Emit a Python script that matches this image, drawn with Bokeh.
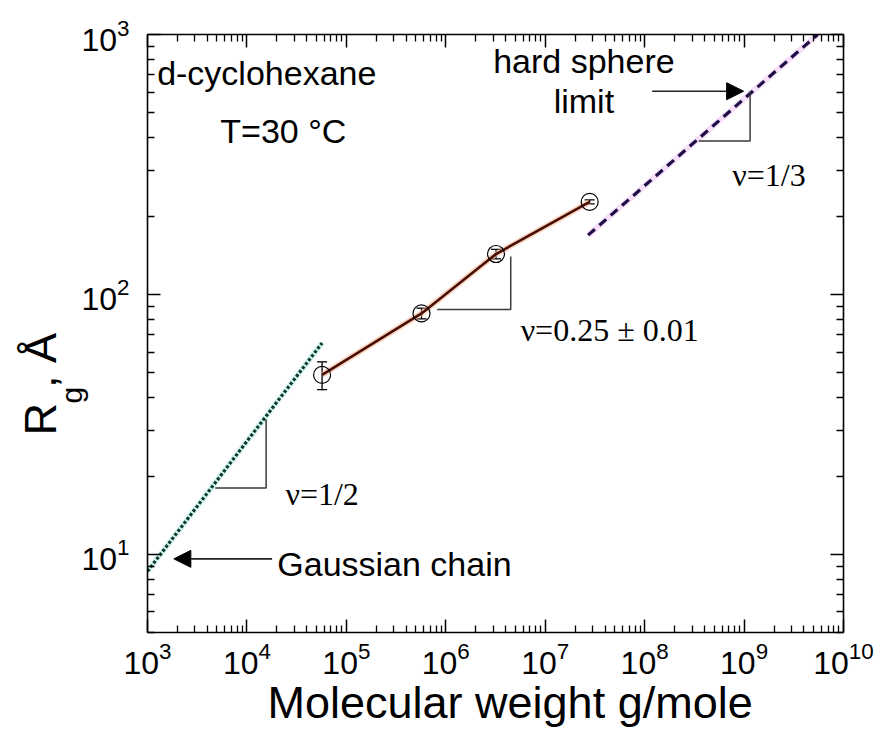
from bokeh.embed import file_html
from bokeh.resources import INLINE
from bokeh.plotting import figure
from bokeh.models import (ColumnDataSource, Range1d, LogAxis, FixedTicker, Label, Title,
                          Arrow, NormalHead, Whisker, TeeHead, CustomJSTickFormatter)

# ---- measured radii of gyration vs molecular weight (d-cyclohexane, 30 C) ----
mw = [5.7e4, 5.7e5, 3.2e6, 2.8e7]
rg = [49.0, 84.5, 143.0, 227.0]
rg_err = [6.0, 4.0, 6.0, 4.0]

# ---- reference scaling laws ----
gauss_mw = [1.0e3, 5.7e4]        # nu = 1/2
gauss_rg = [8.6, 65.0]
hs_mw = [2.7e7, 5.5e9]           # nu = 1/3
hs_rg = [169.0, 1000.0]

# ---- slope triangles ----
tri_gauss_mw = [4.8e3, 1.56e4, 1.56e4]
tri_gauss_rg = [18.0, 18.0, 33.0]
tri_main_mw = [8.2e5, 4.5e6, 4.5e6]
tri_main_rg = [87.5, 87.5, 140.0]
tri_hs_mw = [3.5e8, 1.15e9, 1.15e9]
tri_hs_rg = [389.0, 389.0, 605.0]

# ---- axis ticks ----
x_ticks = [1e3, 1e4, 1e5, 1e6, 1e7, 1e8, 1e9, 1e10]
y_ticks = [1e1, 1e2, 1e3]
x_minor = [m * 10 ** e for e in range(3, 10) for m in range(2, 10)]
y_minor = [m * 10 ** e for e in range(0, 3) for m in range(2, 10) if m * 10 ** e >= 5]

SANS = "Liberation Sans"
SERIF = "Liberation Serif"

p = figure(width=882, height=734, x_axis_type="log", y_axis_type="log",
           x_range=Range1d(1e3, 1e10), y_range=Range1d(5, 1000),
           output_backend="svg", toolbar_location=None,
           min_border_left=147, min_border_right=39,
           min_border_top=34, min_border_bottom=102,
           background_fill_color="white", border_fill_color="white",
           outline_line_color=None)
p.grid.visible = False


def style_axis(ax, ticks, minor, show_labels):
    ax.ticker = FixedTicker(ticks=ticks, minor_ticks=minor)
    ax.axis_line_color = "black"
    ax.axis_line_width = 1.6
    ax.major_tick_in = 13
    ax.major_tick_out = 0
    ax.minor_tick_in = 7
    ax.minor_tick_out = 0
    ax.major_tick_line_color = "black"
    ax.minor_tick_line_color = "black"
    ax.major_tick_line_width = 1.5
    ax.minor_tick_line_width = 1.3
    ax.major_label_text_font = SANS
    ax.major_label_text_color = "black"
    ax.major_label_text_font_size = "32px"
    if not show_labels:
        ax.formatter = CustomJSTickFormatter(code="return ''")
        ax.major_label_standoff = 0


style_axis(p.xaxis[0], x_ticks, x_minor, True)
style_axis(p.yaxis[0], y_ticks, y_minor, True)
p.xaxis[0].major_label_standoff = 9
p.yaxis[0].major_label_standoff = 18

top_axis = LogAxis()
style_axis(top_axis, x_ticks, x_minor, False)
p.add_layout(top_axis, "above")
right_axis = LogAxis()
style_axis(right_axis, y_ticks, y_minor, False)
p.add_layout(right_axis, "right")

# axis titles (R with a subscript g on the vertical axis)
p.add_layout(Title(text="Molecular weight g/mole", align="left", offset=120,
                   vertical_align="top", standoff=0, text_font=SANS,
                   text_font_size="45px", text_font_style="normal",
                   text_color="black"), "below")
p.add_layout(Title(text="g", align="left", offset=229, vertical_align="bottom",
                   standoff=-18, text_font=SANS, text_font_size="30px",
                   text_font_style="normal", text_color="black"), "left")
p.add_layout(Title(text="R\u2004, Å", align="left", offset=197, vertical_align="bottom",
                   standoff=-8, text_font=SANS, text_font_size="45px",
                   text_font_style="normal", text_color="black"), "left")

# faint colour fringes around the fitted lines
p.line(gauss_mw, gauss_rg, line_color="#a8ece0", line_width=6, line_alpha=0.45)
p.line(hs_mw, hs_rg, line_color="#efc0f2", line_width=6, line_alpha=0.5)
p.line(mw, rg, line_color="#f4b48a", line_width=6, line_alpha=0.5)

# scaling lines
p.line(gauss_mw, gauss_rg, line_color="#0c3a31", line_width=3.2, line_dash="3 2")
p.line(hs_mw, hs_rg, line_color="#1c0d46", line_width=3.2, line_dash="9 6")
p.line(mw, rg, line_color="#4a0d04", line_width=2.6)

# slope triangles
for tx, ty in ((tri_gauss_mw, tri_gauss_rg), (tri_main_mw, tri_main_rg),
               (tri_hs_mw, tri_hs_rg)):
    p.line(tx, ty, line_color="#3a3a3a", line_width=1.5)

# data points with error bars
src = ColumnDataSource(dict(
    mw=mw, rg=rg,
    upper=[r + e for r, e in zip(rg, rg_err)],
    lower=[r - e for r, e in zip(rg, rg_err)],
))
p.add_layout(Whisker(source=src, base="mw", upper="upper", lower="lower",
                     dimension="height", line_color="black", line_width=1.3,
                     upper_head=TeeHead(size=10, line_color="black", line_width=1.3),
                     lower_head=TeeHead(size=10, line_color="black", line_width=1.3)))
p.scatter("mw", "rg", source=src, marker="circle", size=17,
          fill_color=None, line_color="black", line_width=1.2)

# arrows
p.add_layout(Arrow(x_start=1.79e4, y_start=9.6, x_end=1.84e3, y_end=9.6,
                   line_color="#222222", line_width=1.6,
                   end=NormalHead(size=17, fill_color="black", line_color="black")))
p.add_layout(Arrow(x_start=1.19e8, y_start=605, x_end=9.9e8, y_end=605,
                   line_color="#222222", line_width=1.6,
                   end=NormalHead(size=17, fill_color="black", line_color="black")))


def add_text(text, x, y, font, size, align="left"):
    p.add_layout(Label(x=x, y=y, text=text, text_font=font,
                       text_font_size=size, text_color="black",
                       text_align=align, text_baseline="alphabetic"))


add_text("d-cyclohexane", 1.25e3, 709, SANS, "34px")
add_text("T=30 °C", 5.4e3, 425, SANS, "34px")
add_text("hard sphere", 2.45e7, 793, SANS, "34px", align="center")
add_text("limit", 2.45e7, 556, SANS, "34px", align="center")
add_text("Gaussian chain", 2.02e4, 9.15, SANS, "34px")
add_text("ν=1/2", 2.44e4, 17.0, SERIF, "32px")
add_text("ν=0.25 ± 0.01", 5.66e6, 73.0, SERIF, "32px")
add_text("ν=1/3", 7.62e8, 287, SERIF, "32px")

open("out.html", "w").write(file_html(p, INLINE))
